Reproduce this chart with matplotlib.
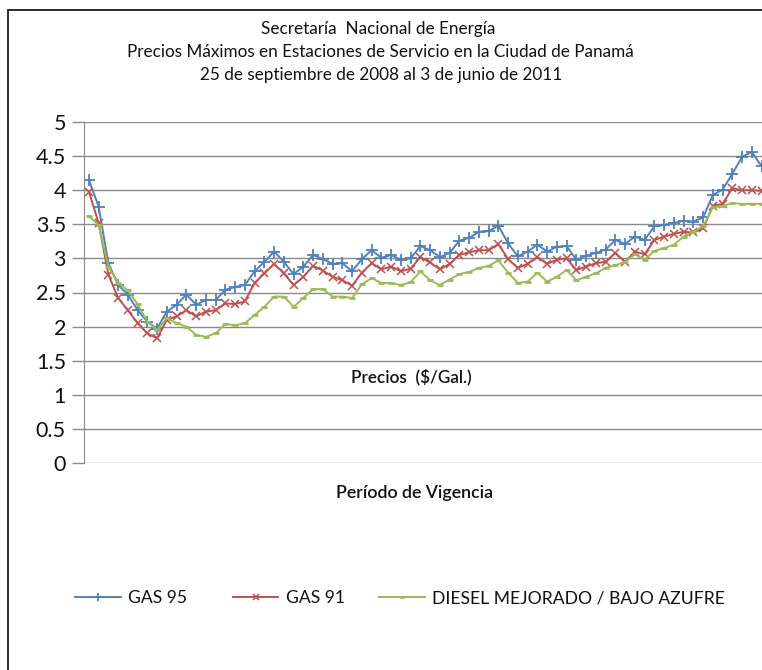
import numpy as np
import matplotlib
matplotlib.use('Agg')
import matplotlib.pyplot as plt
from matplotlib.patches import Rectangle

plt.rcParams['font.family'] = ['Lato', 'DejaVu Sans']

# data (weekly maximum prices, $/gal)
gas95 = [4.15, 3.76, 2.93, 2.61, 2.47, 2.24, 2.07, 1.97, 2.22, 2.32,
         2.47, 2.32, 2.39, 2.39, 2.54, 2.58, 2.61, 2.81, 2.95, 3.10,
         2.95, 2.77, 2.88, 3.05, 2.99, 2.92, 2.93, 2.81, 2.99, 3.12,
         3.01, 3.05, 2.98, 3.00, 3.18, 3.12, 3.02, 3.08, 3.26, 3.30,
         3.39, 3.40, 3.48, 3.22, 3.03, 3.10, 3.20, 3.10, 3.17, 3.18,
         2.98, 3.04, 3.08, 3.13, 3.27, 3.21, 3.32, 3.27, 3.47, 3.49,
         3.52, 3.55, 3.54, 3.60, 3.93, 4.01, 4.24, 4.49, 4.56, 4.35]
gas91 = [3.98, 3.52, 2.76, 2.42, 2.24, 2.05, 1.90, 1.83, 2.10, 2.15,
         2.24, 2.15, 2.22, 2.24, 2.34, 2.33, 2.37, 2.64, 2.78, 2.92,
         2.78, 2.61, 2.73, 2.89, 2.82, 2.73, 2.68, 2.60, 2.79, 2.93,
         2.84, 2.88, 2.81, 2.85, 3.02, 2.94, 2.84, 2.92, 3.05, 3.09,
         3.12, 3.12, 3.21, 2.99, 2.86, 2.92, 3.02, 2.92, 2.98, 3.00,
         2.83, 2.88, 2.93, 2.95, 3.08, 2.95, 3.10, 3.06, 3.27, 3.32,
         3.36, 3.39, 3.38, 3.44, 3.77, 3.80, 4.03, 4.00, 4.00, 3.99]
diesel = [3.62, 3.49, 2.88, 2.64, 2.53, 2.33, 2.07, 1.95, 2.12, 2.05,
          2.00, 1.88, 1.85, 1.90, 2.04, 2.02, 2.05, 2.17, 2.29, 2.44,
          2.44, 2.29, 2.42, 2.55, 2.55, 2.44, 2.44, 2.42, 2.62, 2.71,
          2.64, 2.64, 2.61, 2.65, 2.81, 2.68, 2.61, 2.69, 2.77, 2.80,
          2.86, 2.89, 2.97, 2.79, 2.64, 2.66, 2.79, 2.66, 2.73, 2.83,
          2.68, 2.73, 2.78, 2.86, 2.90, 2.95, 3.06, 2.98, 3.11, 3.15,
          3.20, 3.32, 3.39, 3.47, 3.75, 3.77, 3.81, 3.80, 3.80, 3.80]
labels = ['GAS 95', 'GAS 91', 'DIESEL MEJORADO / BAJO AZUFRE']
yticks = [0, 0.5, 1, 1.5, 2, 2.5, 3, 3.5, 4, 4.5, 5]

W, H = 762, 670
fx = lambda px: px / W
fy = lambda py: 1 - py / H

fig = plt.figure(figsize=(W / 100, H / 100), dpi=100)
fig.patches.append(Rectangle((fx(8), fy(700)), 1.2, fy(10) - fy(700),
                             transform=fig.transFigure, fill=False,
                             edgecolor='#1a1a1a', lw=1.3))

ax = fig.add_axes([fx(84), fy(463), fx(762) - fx(84), fy(122) - fy(463)])
x = np.arange(len(gas95))
l1, = ax.plot(x, gas95, color='#4F81BD', lw=1.4, marker='+', ms=8, mew=1.3)
l2, = ax.plot(x, gas91, color='#C0504D', lw=1.4, marker='x', ms=5.5, mew=1.1)
l3, = ax.plot(x, diesel, color='#9BBB59', lw=1.4, marker='_', ms=4, mew=2)

ax.set_xlim(-0.5, 69.04)
ax.set_ylim(0, 5)
ax.set_yticks(yticks)
ax.set_yticklabels([f'{t:g}' for t in yticks], fontsize=15.5, color='#111111')
ax.set_xticks([])
ax.yaxis.grid(True, color='#8a8a8a', lw=1)
ax.set_axisbelow(True)
for s in ['top', 'right', 'bottom']:
    ax.spines[s].set_visible(False)
ax.spines['left'].set_color('#8a8a8a')
ax.tick_params(axis='y', length=9, color='#8a8a8a', width=1, pad=4)

tkw = dict(ha='center', va='center', fontsize=12.3, color='#111111')
fig.text(fx(378), fy(29), 'Secretaría  Nacional de Energía', **tkw)
fig.text(fx(380), fy(52), 'Precios Máximos en Estaciones de Servicio en la Ciudad de Panamá', **tkw)
fig.text(fx(381), fy(75), '25 de septiembre de 2008 al 3 de junio de 2011', **tkw)
fig.text(fx(411), fy(377), 'Precios  ($/Gal.)', ha='center', va='center',
         fontsize=12.3, fontweight='semibold', color='#111111')
fig.text(fx(415), fy(493), 'Período de Vigencia', ha='center', va='center',
         fontsize=12.8, fontweight='semibold', color='#111111')

# one legend entry per position, as in the original layout
for line, lab, x0 in zip([l1, l2, l3], labels, [75, 233, 379]):
    fig.legend([line], [lab], loc='center left', bbox_to_anchor=(fx(x0), fy(598)),
               frameon=False, handlelength=2.6, handletextpad=0.45, numpoints=1,
               borderpad=0, borderaxespad=0, markerscale=0.7,
               prop={'size': 12.6}, labelcolor='#111111')

fig.savefig('out.png', dpi=100, facecolor='white')
